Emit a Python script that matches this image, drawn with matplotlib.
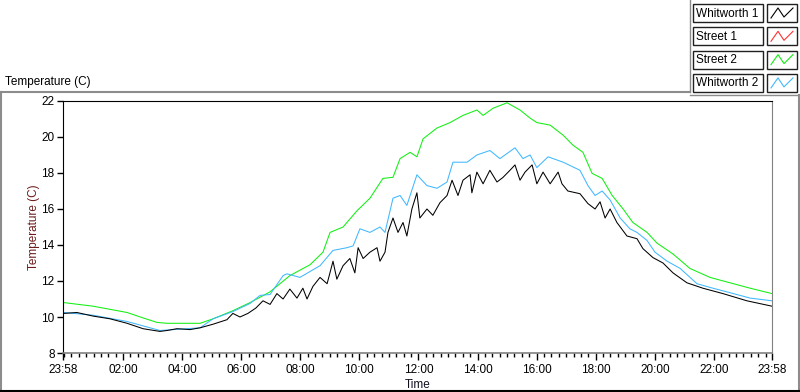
import matplotlib
matplotlib.use('Agg')
import matplotlib.pyplot as plt
from matplotlib.patches import Rectangle

plt.rcParams['font.family'] = ['Liberation Sans', 'DejaVu Sans']
plt.rcParams['font.size'] = 8.5

# hours elapsed since 23:58 and temperature (C)
whit1_h = [0.03, 0.47, 1.02, 1.59, 2.17, 2.71, 3.28, 3.52, 3.86, 4.30, 4.64, 5.08,
           5.55, 5.75, 5.99, 6.26, 6.53, 6.77, 7.01, 7.24, 7.45, 7.68, 7.92, 8.12,
           8.26, 8.46, 8.70, 8.94, 9.14, 9.27, 9.48, 9.71, 9.88, 9.99, 10.16, 10.39,
           10.63, 10.73, 10.90, 11.00, 11.17, 11.34, 11.51, 11.64, 11.81, 11.98,
           12.08, 12.32, 12.52, 12.76, 13.00, 13.17, 13.37, 13.54, 13.78, 13.84,
           14.01, 14.22, 14.45, 14.69, 14.89, 15.13, 15.30, 15.47, 15.64, 15.88,
           16.04, 16.25, 16.49, 16.76, 16.89, 17.09, 17.50, 17.77, 18.01, 18.18,
           18.35, 18.52, 18.75, 19.09, 19.43, 19.63, 19.97, 20.31, 20.65, 21.12,
           21.66, 22.34, 23.15, 24.0]
whit1_t = [10.2, 10.25, 10.05, 9.9, 9.65, 9.35, 9.2, 9.25, 9.35, 9.3, 9.4, 9.6,
           9.85, 10.2, 10.0, 10.2, 10.5, 10.9, 10.7, 11.3, 11.0, 11.55, 11.05, 11.6,
           11.0, 11.7, 12.2, 11.85, 13.1, 12.1, 12.85, 13.25, 12.45, 13.85, 13.25, 13.6,
           13.85, 13.1, 13.6, 14.7, 15.5, 14.7, 15.25, 14.5, 16.0, 16.9,
           15.5, 16.0, 15.65, 16.35, 16.75, 17.6, 16.75, 17.6, 17.9, 16.9,
           18.05, 17.4, 18.15, 17.5, 17.75, 18.15, 18.45, 17.6, 18.05, 18.45,
           17.4, 18.05, 17.4, 18.05, 17.4, 17.0, 16.85, 16.3, 16.0, 16.4,
           15.5, 16.0, 15.25, 14.5, 14.35, 13.8, 13.3, 13.0, 12.45, 11.9,
           11.6, 11.3, 10.9, 10.6]

street2_h = [0.03, 1.02, 2.17, 2.71, 3.18, 3.52, 4.64, 5.08, 5.75, 6.33, 7.01, 7.68,
             8.36, 8.80, 9.04, 9.48, 9.95, 10.39, 10.83, 11.17, 11.41, 11.75, 11.98,
             12.19, 12.66, 13.10, 13.54, 14.01, 14.22, 14.56, 15.03, 15.47, 15.81,
             16.04, 16.49, 16.93, 17.26, 17.60, 17.91, 18.25, 18.59, 18.96, 19.29,
             19.77, 20.11, 20.65, 21.22, 21.90, 22.58, 23.26, 24.0]
street2_t = [10.8, 10.6, 10.25, 9.95, 9.7, 9.65, 9.65, 9.9, 10.35, 10.8, 11.4, 12.3,
             12.9, 13.6, 14.7, 15.0, 15.9, 16.6, 17.7, 17.76, 18.8, 19.15, 18.9,
             19.9, 20.5, 20.8, 21.2, 21.5, 21.2, 21.6, 21.9, 21.5, 21.05,
             20.8, 20.66, 20.1, 19.55, 19.15, 17.98, 17.7, 16.75, 16.0, 15.25,
             14.7, 14.1, 13.5, 12.7, 12.2, 11.9, 11.6, 11.3]

whit2_h = [0.03, 1.02, 2.17, 3.28, 4.64, 5.08, 5.75, 6.33, 6.67, 7.01, 7.45, 7.58,
           8.02, 8.70, 9.14, 9.61, 9.82, 10.05, 10.39, 10.73, 10.90, 11.17, 11.41,
           11.64, 11.98, 12.32, 12.66, 13.00, 13.20, 13.68, 14.01, 14.45, 14.79,
           15.30, 15.57, 15.81, 16.04, 16.42, 16.93, 17.50, 17.77, 18.01, 18.25,
           18.52, 18.86, 19.19, 19.43, 19.77, 20.04, 20.45, 20.89, 21.46, 22.00,
           22.58, 23.26, 24.0]
whit2_t = [10.25, 10.1, 9.75, 9.25, 9.4, 9.9, 10.3, 10.75, 11.2, 11.25, 12.3, 12.4,
           12.2, 12.85, 13.7, 13.85, 13.95, 14.9, 14.7, 15.0, 14.7, 16.6, 16.75,
           16.2, 17.9, 17.3, 17.15, 17.5, 18.6, 18.6, 19.0, 19.25, 18.8,
           19.4, 18.8, 19.0, 18.3, 18.9, 18.6, 18.15, 17.3, 16.75, 17.0,
           16.5, 15.5, 14.9, 14.7, 14.25, 13.6, 13.1, 12.7, 11.85, 11.6,
           11.35, 11.05, 10.9]

series_names = ['Whitworth 1', 'Street 1', 'Street 2', 'Whitworth 2']
series_colors = ['#000000', '#ff3030', '#10f010', '#40b8ff']

tick_hours = [0, 2.033, 4.033, 6.033, 8.033, 10.033, 12.033, 14.033, 16.033,
              18.033, 20.033, 22.033, 24]
tick_labels = ['23:58', '02:00', '04:00', '06:00', '08:00', '10:00', '12:00',
               '14:00', '16:00', '18:00', '20:00', '22:00', '23:58']
y_ticks = [8, 10, 12, 14, 16, 18, 20, 22]

fig = plt.figure(figsize=(8, 3.92), dpi=100)
ax = fig.add_axes([63 / 800, 1 - 353 / 392, 709 / 800, 252 / 392])

# Street 1 has no samples on this day, so only its legend entry is shown
ax.plot(street2_h, street2_t, color=series_colors[2], lw=0.75)
ax.plot(whit2_h, whit2_t, color=series_colors[3], lw=0.75)
ax.plot(whit1_h, whit1_t, color=series_colors[0], lw=0.75)

ax.set_xlim(0, 24)
ax.set_ylim(8, 22)
ax.set_yticks(y_ticks)
ax.set_xticks(tick_hours)
ax.set_xticklabels(tick_labels)
minor = [0.033 + 0.25 * k for k in range(96)]
ax.set_xticks(minor, minor=True)
ax.tick_params(axis='x', which='major', length=5, width=1, pad=3, colors='black')
ax.tick_params(axis='x', which='minor', length=3, width=1)
ax.tick_params(axis='y', length=4, width=1, pad=2)
for s in ['left', 'top']:
    ax.spines[s].set_color('black')
for s in ['right', 'bottom']:
    ax.spines[s].set_color('#808080')
ax.spines['bottom'].set_linewidth(1.2)

ax.set_xlabel('Time', labelpad=2, color='#101020')
ax.set_ylabel('Temperature (C)', color='#6a1c1c', labelpad=1)

# panel frame / title / legend drawn in pixel coordinates
ov = fig.add_axes([0, 0, 1, 1], zorder=5)
ov.set_xlim(0, 800)
ov.set_ylim(392, 0)
ov.axis('off')
ov.patch.set_alpha(0)

gray = '#8c8c8c'
ov.plot([0, 690], [92, 92], color=gray, lw=1.5)
ov.plot([690, 690], [0, 92], color=gray, lw=1)
ov.plot([690, 800], [95, 95], color=gray, lw=1)
ov.plot([799, 799], [95, 390], color=gray, lw=1.5)
ov.plot([0.5, 0.5], [92, 390], color=gray, lw=1.5)
ov.plot([0, 800], [390.5, 390.5], color='black', lw=1.5)
ov.text(5, 82, 'Temperature (C)', ha='left', va='center', fontsize=8.5)

for i, (name, col) in enumerate(zip(series_names, series_colors)):
    y0 = 4 + i * 23.3
    ov.add_patch(Rectangle((693, y0), 70, 18, facecolor='white',
                           edgecolor='#202020', lw=1))
    ov.text(696, y0 + 9.5, name, ha='left', va='center', fontsize=8.5)
    ov.add_patch(Rectangle((767, y0), 30, 18, facecolor='white',
                           edgecolor='#202020', lw=1))
    ov.plot([771, 778, 784, 793], [y0 + 14, y0 + 4, y0 + 13, y0 + 4],
            color=col, lw=0.8)

fig.savefig('out.png', dpi=100)
